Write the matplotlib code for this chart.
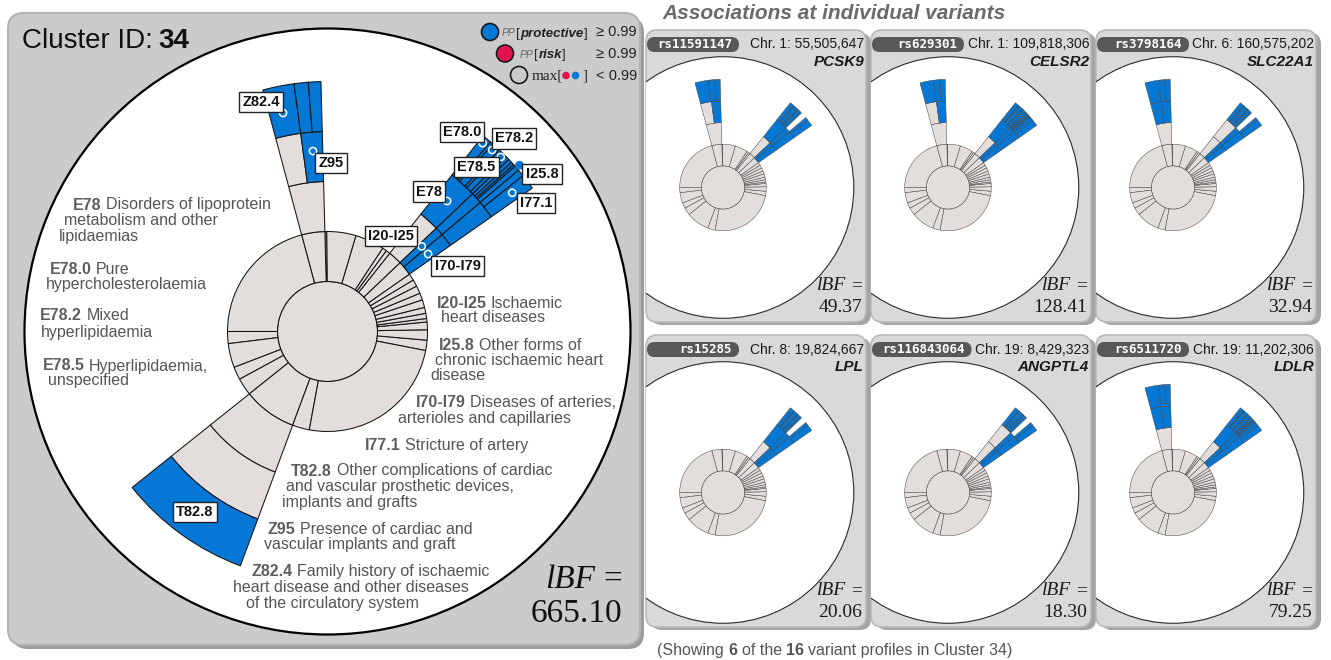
import matplotlib
matplotlib.use("Agg")
import numpy as np
import matplotlib.pyplot as plt
from matplotlib.patches import Wedge, Circle, FancyBboxPatch

# ---------------------------------------------------------------- data
CLUSTER_ID = "34"
CLUSTER_LBF = "665.10"

# ring 1 (ICD-10 chapters) boundaries, degrees counter-clockwise from 3 o'clock
RING1_EDGES = [-11, -5, 1, 5.5, 7.5, 10.5, 14, 18.5, 22.5, 27, 31, 35, 43.5,
               51.5, 54, 56.5, 73.5, 90.5, 91.5, 105, 180, 187, 201,
               208.5, 218.6, 249.6, 259.5]

# deeper nodes: level, start angle, end angle
NODES = {
    "Z80-Z99": (2, 91.5, 105.0), "Z82": (3, 97.7, 105.0), "Z95": (3, 91.5, 97.7),
    "Z82.4": (4, 97.7, 105.0), "Z95.1": (4, 94.4, 97.7), "Z95.5": (4, 91.5, 94.4),
    "E70-E90": (2, 43.5, 51.5), "E78": (3, 43.5, 51.5),
    "E78.0": (4, 49.3, 51.5), "E78.1": (4, 48.6, 49.3), "E78.2": (4, 46.6, 48.6),
    "E78.4": (4, 45.9, 46.6), "E78.5": (4, 44.4, 45.9), "E78.6": (4, 43.5, 44.4),
    "I20-I25": (2, 40.2, 43.5), "I70-I79": (2, 35.0, 40.2),
    "I25": (3, 40.2, 43.5), "I77": (3, 35.0, 40.2),
    "I25.1": (4, 42.6, 43.5), "I25.2": (4, 41.9, 42.6), "I25.5": (4, 41.4, 41.9),
    "I25.8": (4, 40.2, 41.4), "I77.1": (4, 35.0, 38.6), "I77.8": (4, 38.6, 40.2),
    "T80-T88": (2, 218.6, 249.6), "T82": (3, 218.6, 249.6), "T82.8": (4, 218.6, 249.6),
}

E78_SUB = ["E78.0", "E78.1", "E78.2", "E78.4", "E78.5", "E78.6"]
I25_SUB = ["I25.1", "I25.2", "I25.5", "I25.8"]
I77_SUB = ["I77.1", "I77.8"]

# node states: 'b' protective (PP >= 0.99), 'g' below threshold
Z_A = {"Z80-Z99": "g", "Z82": "g", "Z95": "b", "Z82.4": "b", "Z95.1": "b", "Z95.5": "b"}
Z_B = {"Z80-Z99": "g", "Z82": "b", "Z95": "b", "Z82.4": "b", "Z95.1": "b", "Z95.5": "b"}
E_A = {"E70-E90": "g", "E78": "b", **{k: "b" for k in E78_SUB}}
E_B = {"E70-E90": "g", "E78": "g", **{k: "b" for k in E78_SUB}}
I_A = {"I20-I25": "b", "I70-I79": "b", "I25": "b", "I77": "b",
       **{k: "b" for k in I25_SUB + I77_SUB}}
I_B = {"I20-I25": "b", "I70-I79": "b", "I25": "b", "I77": "b",
       **{k: "b" for k in I77_SUB}}
T_A = {"T80-T88": "g", "T82": "g", "T82.8": "b"}

CLUSTER_STATE = {**Z_A, **E_A, **I_A, **T_A}

VARIANT_RSID = ["rs11591147", "rs629301", "rs3798164", "rs15285", "rs116843064", "rs6511720"]
VARIANT_POS = ["Chr. 1: 55,505,647", "Chr. 1: 109,818,306", "Chr. 6: 160,575,202",
               "Chr. 8: 19,824,667", "Chr. 19: 8,429,323", "Chr. 19: 11,202,306"]
VARIANT_GENE = ["PCSK9", "CELSR2", "SLC22A1", "LPL", "ANGPTL4", "LDLR"]
VARIANT_LBF = ["49.37", "128.41", "32.94", "20.06", "18.30", "79.25"]
VARIANT_STATE = [
    {**Z_A, **E_A, **I_B},
    {**Z_A, **E_A, **I_A},
    {**Z_B, **E_B, **I_B},
    {**E_A, **I_B},
    {**E_B, **I_B},
    {**Z_B, **E_A, **I_A},
]
N_SHOWN, N_TOTAL = 6, 16

# ICD-10 descriptions
DESCRIPTIONS = [
    ("E78", ["Disorders of lipoprotein", "metabolism and other", "lipidaemias"]),
    ("E78.0", ["Pure", "hypercholesterolaemia"]),
    ("E78.2", ["Mixed", "hyperlipidaemia"]),
    ("E78.5", ["Hyperlipidaemia,", "unspecified"]),
    ("I20-I25", ["Ischaemic", "heart diseases"]),
    ("I25.8", ["Other forms of", "chronic ischaemic heart", "disease"]),
    ("I70-I79", ["Diseases of arteries,", "arterioles and capillaries"]),
    ("I77.1", ["Stricture of artery"]),
    ("T82.8", ["Other complications of cardiac", "and vascular prosthetic devices,",
               "implants and grafts"]),
    ("Z95", ["Presence of cardiac and", "vascular implants and graft"]),
    ("Z82.4", ["Family history of ischaemic", "heart disease and other diseases",
               "of the circulatory system"]),
]

# ---------------------------------------------------------------- style / layout
BLUE = "#0577d5"
RED = "#e2134d"
WEDGE_GREY = "#e3dddb"
TEXT_GREY = "#555555"
RADII = [0, 50, 100, 150, 200, 250]

W, H = 1331, 660
fig = plt.figure(figsize=(W / 100, H / 100), dpi=100)
ax = fig.add_axes([0, 0, 1, 1])
ax.set_xlim(0, W)
ax.set_ylim(H, 0)
ax.axis("off")
renderer = fig.canvas.get_renderer()

SANS = "Liberation Sans"
SERIF = "Liberation Serif"


def text_w(s, **kw):
    t = ax.text(0, 0, s, **kw)
    w = t.get_window_extent(renderer).width
    t.remove()
    return w


def chain(x, y, parts, ha="left", va="baseline", zorder=10):
    """Lay out differently styled text pieces one after the other."""
    widths = [text_w(s, **kw) for s, kw, _ in parts]
    total = sum(widths) + sum(g for _, _, g in parts[:-1])
    if ha == "right":
        x -= total
    for (s, kw, gap), w in zip(parts, widths):
        ax.text(x, y, s, ha="left", va=va, zorder=zorder, **kw)
        x += w + gap


def polar(cx, cy, ang, r):
    a = np.deg2rad(ang)
    return cx + r * np.cos(a), cy - r * np.sin(a)


def ring_wedge(cx, cy, s, r_in, r_out, a0, a1, fc, ec, lw, clip=None):
    p = Wedge((cx, cy), r_out * s, -a1, -a0, width=(r_out - r_in) * s,
              fc=fc, ec=ec, lw=lw, zorder=4)
    ax.add_patch(p)
    if clip is not None:
        p.set_clip_path(clip)


def sunburst(cx, cy, s, state, ec, lw, clip=None):
    c = Circle((cx, cy), RADII[1] * s, fc=WEDGE_GREY, ec=ec, lw=lw, zorder=4)
    ax.add_patch(c)
    edges = sorted(RING1_EDGES)
    for a0, a1 in zip(edges, edges[1:] + [edges[0] + 360]):
        ring_wedge(cx, cy, s, RADII[1], RADII[2], a0, a1, WEDGE_GREY, ec, lw, clip)
    for name, st in state.items():
        lvl, a0, a1 = NODES[name]
        ring_wedge(cx, cy, s, RADII[lvl], RADII[lvl + 1], a0, a1,
                   BLUE if st == "b" else WEDGE_GREY, ec, lw, clip)


# ---------------------------------------------------------------- cluster panel
ax.add_patch(FancyBboxPatch((12, 17), 632, 632, boxstyle="round,pad=0,rounding_size=16",
                            fc="#9c9c9c", ec="none", zorder=1))
main_panel = FancyBboxPatch((8, 13), 632, 632, boxstyle="round,pad=0,rounding_size=16",
                            fc="#cbcbcb", ec="#b3b3b3", lw=1.5, zorder=2)
ax.add_patch(main_panel)

MCX, MCY = 327.5, 331.5
ax.add_patch(Circle((MCX, MCY), 303, fc="white", ec="black", lw=1.6, zorder=3))
sunburst(MCX, MCY, 1.0, CLUSTER_STATE, "#141414", 0.75)

chain(22, 48, [("Cluster ID:", dict(fontsize=20, family=SANS, color="#111111"), 6),
               (CLUSTER_ID, dict(fontsize=20, family=SANS, weight="bold", color="#111111"), 0)])

# description texts (one entry per line: left x, vertical centre)
DESC_POS = [
    [(72.6, 204), (63.5, 219.5), (59, 235)],
    [(49.8, 268), (45.6, 283.5)],
    [(40, 315), (40.5, 331)],
    [(42.7, 365), (47.7, 380)],
    [(436.5, 302), (440.7, 317)],
    [(439, 344), (434.9, 359.3), (430.3, 374.3)],
    [(416, 401.7), (397.5, 417.7)],
    [(365, 444.3)],
    [(291.3, 470), (286.3, 485.3), (282.2, 501)],
    [(267.6, 528.3), (263.5, 543.3)],
    [(251, 570.7), (233.2, 586.7), (245.6, 602.7)],
]
DFS = 11.5
for (code, lines), pos in zip(DESCRIPTIONS, DESC_POS):
    for i, (line, (x, y)) in enumerate(zip(lines, pos)):
        yb = y + 5.5
        if i == 0:
            chain(x, yb, [(code, dict(fontsize=DFS, family=SANS, weight="bold", color="#5e5e5e"), 4.5),
                          (line, dict(fontsize=DFS, family=SANS, color=TEXT_GREY), 0)])
        else:
            ax.text(x, yb, line, fontsize=DFS, family=SANS, color=TEXT_GREY,
                    ha="left", va="baseline", zorder=10)

# node call-outs: anchor (angle, radius) and box centre
CALLOUTS = [
    ("Z82.4", (101.5, 223), (261, 102)),
    ("Z95", (94.6, 181), (331, 163)),
    ("E78.0", (50.5, 244), (462, 132)),
    ("E78.2", (47.8, 245), (514, 138.5)),
    ("E78.5", (45.2, 246), (476.5, 167)),
    ("I25.8", (40.9, 254), (542, 174)),
    ("E78", (47.5, 177), (429, 191.5)),
    ("I77.1", (36.9, 231), (536, 203)),
    ("I20-I25", (42.1, 127), (391, 236)),
    ("I70-I79", (37.6, 127), (457.5, 266)),
    ("T82.8", (233.7, 224), (195, 512)),
]
for code, (ang, r), (bx, by) in CALLOUTS:
    ax.text(bx, by, code, ha="center", va="center", fontsize=10.5, family=SANS,
            weight="bold", color="#111111", zorder=9,
            bbox=dict(boxstyle="square,pad=0.22", fc="white", ec="#222222", lw=1.0))
    if code != "T82.8":
        px, py = polar(MCX, MCY, ang, r)
        filled = code == "I25.8"
        ax.add_patch(Circle((px, py), 3.6, fc=BLUE, ec=BLUE if filled else "white",
                            lw=1.1, zorder=8))

# legend
LFS = 10.5
BFS = 9.5
ax.add_patch(Circle((490, 32), 8.5, fc=BLUE, ec="#1a1a1a", lw=1.2, zorder=8))
chain(502, 36.5, [("PP", dict(fontsize=7.5, family=SANS, style="italic", color="#666666"), 0.5),
                  ("[", dict(fontsize=BFS, family=SANS, color="#222222"), 0.3),
                  ("protective", dict(fontsize=BFS, family=SANS, style="italic", weight="bold",
                                      color="#222222"), 0.3),
                  ("]", dict(fontsize=BFS, family=SANS, color="#222222"), 0)])
ax.add_patch(Circle((505, 53.5), 8.5, fc=RED, ec="#1a1a1a", lw=1.2, zorder=8))
chain(520, 58, [("PP", dict(fontsize=7.5, family=SANS, style="italic", color="#666666"), 0.5),
                ("[", dict(fontsize=BFS, family=SANS, color="#222222"), 0.3),
                ("risk", dict(fontsize=BFS, family=SANS, style="italic", weight="bold",
                              color="#222222"), 0.3),
                ("]", dict(fontsize=BFS, family=SANS, color="#222222"), 0)])
ax.add_patch(Circle((519, 75), 8.5, fc="none", ec="#1a1a1a", lw=1.2, zorder=8))
chain(532, 79.5, [("max[", dict(fontsize=11, family=SERIF, color="#222222"), 19),
                  ("]", dict(fontsize=11, family=SERIF, color="#222222"), 0)])
ax.add_patch(Circle((566, 75.5), 3.8, fc=RED, ec="none", zorder=8))
ax.add_patch(Circle((575.5, 75.5), 3.8, fc=BLUE, ec="none", zorder=8))
for y, s in [(36.5, "\u2265 0.99"), (58, "\u2265 0.99"), (79.5, "< 0.99")]:
    ax.text(637, y, s, ha="right", va="baseline", fontsize=LFS, family=SANS,
            color="#222222", zorder=10)

chain(622, 588, [("lBF", dict(fontsize=24, family=SERIF, style="italic", color="#111111"), 8),
                 ("=", dict(fontsize=24, family=SERIF, color="#111111"), 0)], ha="right")
ax.text(622, 622, CLUSTER_LBF, ha="right", va="baseline", fontsize=24, family=SERIF,
        color="#111111", zorder=10)

# ---------------------------------------------------------------- variant panels
ax.text(662, 19, "Associations at individual variants", ha="left", va="baseline",
        fontsize=15, family=SANS, style="italic", weight="bold", color="#6a6a6a", zorder=10)

S = 0.433
for k in range(6):
    col, row = k % 3, k // 3
    x0, y0 = 646 + 225 * col, 30 + 305 * row
    ax.add_patch(FancyBboxPatch((x0 + 5, y0 + 3), 220, 292,
                                boxstyle="round,pad=0,rounding_size=11",
                                fc="#a4a4a4", ec="none", zorder=2))
    panel = FancyBboxPatch((x0, y0), 220, 292, boxstyle="round,pad=0,rounding_size=11",
                           fc="#d9d9d9", ec="#b9b9b9", lw=1.2, zorder=2)
    ax.add_patch(panel)

    cx, cy = x0 + 77, y0 + 157.5
    wc = Circle((cx, cy), 302 * S, fc="white", ec="#2a2a2a", lw=0.8, zorder=3)
    ax.add_patch(wc)
    wc.set_clip_path(panel)
    sunburst(cx, cy, S, VARIANT_STATE[k], "#444444", 0.35)

    rs = VARIANT_RSID[k]
    tab_w = max(92, 7.5 * len(rs) + 17)
    tab = FancyBboxPatch((x0 + 1, y0 + 7), tab_w, 15, boxstyle="round,pad=0,rounding_size=7.5",
                         fc="#585858", ec="none", zorder=6)
    ax.add_patch(tab)
    tab.set_clip_path(panel)
    ax.text(x0 + tab_w - 6, y0 + 14.8, rs, ha="right", va="center", fontsize=9,
            family="DejaVu Sans Mono", weight="bold", color="white", zorder=7)
    ax.text(x0 + 218, y0 + 14.5, VARIANT_POS[k], ha="right", va="center", fontsize=10,
            family=SANS, color="#1a1a1a", zorder=7)
    ax.text(x0 + 218, y0 + 32, VARIANT_GENE[k], ha="right", va="center", fontsize=11,
            family=SANS, style="italic", weight="bold", color="#1a1a1a", zorder=7)

    chain(x0 + 216, y0 + 260, [("lBF", dict(fontsize=14, family=SERIF, style="italic",
                                            color="#1a1a1a"), 5),
                               ("=", dict(fontsize=14, family=SERIF, color="#1a1a1a"), 0)],
          ha="right")
    ax.text(x0 + 216, y0 + 282, VARIANT_LBF[k], ha="right", va="baseline", fontsize=14,
            family=SERIF, color="#1a1a1a", zorder=10)

chain(657, 655, [("(Showing", dict(fontsize=11.5, family=SANS, color="#555555"), 4.4),
                 (str(N_SHOWN), dict(fontsize=11.5, family=SANS, weight="bold", color="#555555"), 4.4),
                 ("of the", dict(fontsize=11.5, family=SANS, color="#555555"), 4.4),
                 (str(N_TOTAL), dict(fontsize=11.5, family=SANS, weight="bold", color="#555555"), 4.4),
                 ("variant profiles in Cluster 34)", dict(fontsize=11.5, family=SANS,
                                                          color="#555555"), 0)])

fig.savefig("out.png", dpi=100, facecolor="white")
